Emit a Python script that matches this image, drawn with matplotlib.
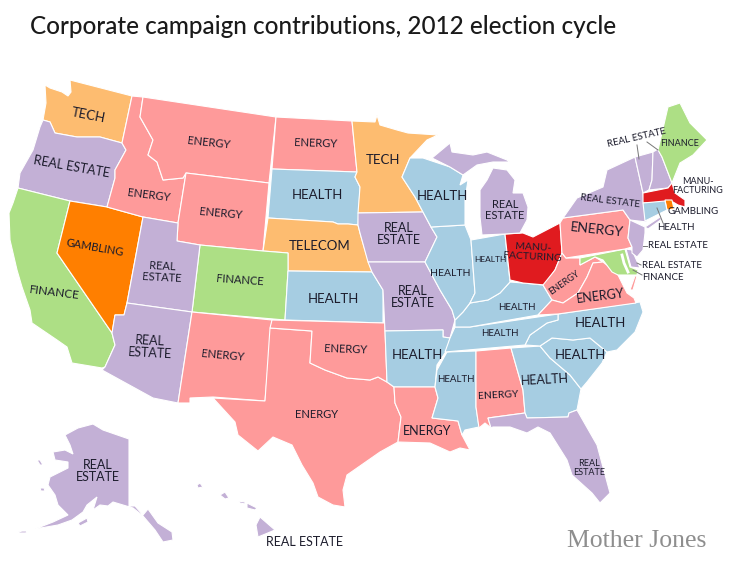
import matplotlib.pyplot as plt
from matplotlib.patches import Polygon

plt.rcParams['font.family'] = ['Lato', 'DejaVu Sans']

# sector colours
colors = {
    'energy': '#FE9A9A', 'tech': '#FDBC70', 'telecom': '#FDBC70', 'realestate': '#C3B0D6',
    'finance': '#ADDF85', 'health': '#A6CDE2', 'gambling': '#FF7F00', 'manu': '#E01B1F',
}

# top industry for each state
sector = {
    'WA': 'tech', 'OR': 'realestate', 'CA': 'finance', 'NV': 'gambling', 'ID': 'energy', 'MT': 'energy',
    'WY': 'energy', 'ND': 'energy', 'SD': 'health', 'NE': 'telecom', 'CO': 'finance', 'KS': 'health',
    'UT': 'realestate', 'AZ': 'realestate', 'NM': 'energy', 'TX': 'energy', 'OK': 'energy', 'MN': 'tech',
    'IA': 'realestate', 'MO': 'realestate', 'AR': 'health', 'LA': 'energy', 'MS': 'health', 'AL': 'energy',
    'GA': 'health', 'SC': 'health', 'NC': 'health', 'TN': 'health', 'KY': 'health', 'IL': 'health',
    'WI': 'health', 'IN': 'health', 'OH': 'manu', 'MI': 'realestate', 'MI2': 'realestate', 'WV': 'energy',
    'VA': 'energy', 'VA2': 'energy', 'MD': 'finance', 'DE': 'realestate', 'PA': 'energy', 'NY': 'realestate',
    'LI': 'realestate', 'NJ': 'realestate', 'VT': 'realestate', 'NH': 'realestate', 'ME': 'finance', 'MA': 'manu',
    'RI': 'gambling', 'CT': 'health', 'FL': 'realestate', 'AK': 'realestate', 'AK2': 'realestate',
    'AK3': 'realestate', 'AK4': 'realestate', 'AK5': 'realestate', 'HI': 'realestate', 'HI2': 'realestate',
    'HI3': 'realestate', 'HI4': 'realestate', 'HI5': 'realestate',
}

# state outlines (pixels)
outlines = {
    'WA': [(45,85),(50,88),(62,92),(68,96),(71,92),(70,80),(132,96),(122,143),(100,137),(77,137),(55,133),(50,122),(43,120),(46,103)],
    'OR': [(43,120),(50,122),(55,133),(77,137),(100,137),(122,143),(126,150),(115,170),(115,178),(107,207),(70,201),(18,188),(20,173),(33,150),(40,127)],
    'CA': [(18,188),(70,201),(57,253),(112,333),(115,345),(105,367),(102,368),(72,363),(67,347),(57,340),(32,323),(30,310),(22,287),(17,270),(10,240),(9,213),(13,203)],
    'NV': [(70,201),(107,207),(143,217),(127,303),(124,315),(115,315),(112,333),(57,253)],
    'ID': [(132,96),(143,97),(140,117),(153,140),(148,155),(157,162),(163,180),(183,178),(186,173),(178,223),(143,217),(107,207),(115,178),(115,170),(126,150),(122,143)],
    'MT': [(143,97),(276,117),(269,183),(186,173),(183,178),(163,180),(157,162),(148,155),(153,140),(140,117)],
    'WY': [(186,173),(269,183),(263,251),(200,245),(177,241),(178,223)],
    'ND': [(276,117),(352,121),(357,172),(272,169)],
    'SD': [(272,169),(357,172),(355,177),(360,187),(358,225),(348,224),(338,224),(333,222),(268,218)],
    'NE': [(268,218),(333,222),(338,224),(348,224),(358,225),(360,233),(367,257),(372,272),(288,271),(288,253),(263,251)],
    'CO': [(200,245),(263,251),(288,253),(288,271),(285,320),(192,312)],
    'KS': [(288,271),(372,272),(383,290),(383,323),(285,320)],
    'UT': [(143,217),(178,223),(177,241),(200,245),(192,312),(127,303)],
    'AZ': [(127,303),(192,312),(178,403),(153,398),(102,370),(105,367),(115,345),(112,333),(115,315),(124,315)],
    'NM': [(192,312),(272,320),(265,401),(213,397),(190,398),(190,403),(178,403)],
    'TX': [(270,328),(312,331),(310,363),(325,370),(347,378),(370,380),(378,377),(387,382),(394,387),(395,403),(401,417),(398,442),(380,452),(347,475),(343,490),(345,507),(333,505),(318,497),(313,483),(302,465),(292,445),(273,437),(258,451),(238,435),(235,422),(213,398),(265,401)],
    'OK': [(272,320),(385,323),(385,330),(387,382),(378,377),(370,380),(347,378),(325,370),(310,363),(312,331),(270,328)],
    'MN': [(352,121),(375,122),(377,115),(380,125),(397,130),(408,133),(438,135),(427,140),(410,158),(402,177),(415,197),(423,212),(358,213),(360,187),(355,177),(357,172)],
    'IA': [(358,213),(423,212),(431,227),(437,237),(425,262),(368,262),(360,233),(358,225)],
    'MO': [(368,262),(425,262),(440,290),(452,310),(455,320),(450,338),(443,337),(443,330),(385,331),(383,290),(372,272)],
    'AR': [(385,331),(443,330),(443,337),(450,338),(447,350),(437,365),(435,387),(394,387),(387,382)],
    'LA': [(394,387),(435,387),(438,398),(432,418),(458,421),(462,435),(470,450),(460,448),(450,452),(430,443),(398,442),(401,417),(395,403)],
    'MS': [(447,352),(476,351),(476,407),(479,427),(465,430),(462,435),(458,421),(432,418),(438,398),(435,387),(437,370)],
    'AL': [(476,351),(511,348),(523,390),(525,413),(488,418),(491,428),(485,423),(479,428),(476,407)],
    'GA': [(511,348),(540,346),(550,358),(570,375),(581,389),(577,410),(569,413),(568,417),(527,418),(525,413),(523,390)],
    'SC': [(540,346),(552,338),(573,340),(590,338),(607,352),(602,363),(587,382),(581,389),(570,375),(550,358)],
    'NC': [(558,314),(640,302),(643,312),(635,332),(617,350),(607,352),(590,338),(573,340),(552,338),(540,346),(525,345),(530,335),(547,323),(558,320)],
    'TN': [(470,327),(558,314),(558,320),(547,323),(530,335),(525,345),(445,352),(450,338),(455,327)],
    'KY': [(455,320),(463,312),(470,303),(488,300),(500,293),(510,282),(523,283),(543,285),(552,300),(538,315),(470,327),(455,327)],
    'IL': [(431,227),(465,225),(471,240),(475,293),(470,303),(463,312),(455,320),(452,310),(440,290),(425,262),(437,237)],
    'WI': [(410,158),(423,158),(450,167),(463,175),(460,185),(468,180),(465,200),(465,225),(431,227),(423,212),(415,197),(402,177)],
    'IN': [(471,240),(505,234),(510,282),(500,293),(488,300),(470,303),(475,293)],
    'OH': [(505,234),(523,233),(533,237),(560,223),(562,253),(555,270),(545,285),(523,283),(510,280)],
    'MI': [(482,235),(480,217),(480,190),(487,180),(493,168),(507,170),(515,180),(513,193),(523,193),(528,207),(527,220),(520,233),(505,234)],
    'MI2': [(432,158),(450,143),(452,152),(473,155),(487,152),(507,160),(510,162),(493,162),(477,165),(463,175),(450,167)],
    'WV': [(562,253),(566,258),(580,258),(580,265),(595,257),(603,262),(593,263),(587,277),(578,293),(563,303),(552,300),(543,285),(555,270)],
    'VA': [(538,315),(552,300),(563,303),(578,293),(587,277),(593,263),(603,262),(617,273),(627,293),(634,298),(636,303),(558,314)],
    'VA2': [(635,276),(637,276),(633,290),(630,290)],
    'MD': [(580,258),(625,249),(630,267),(638,270),(637,275),(618,275),(612,272),(603,260),(595,257),(580,265)],
    'DE': [(626,249),(632,250),(640,268),(631,267)],
    'PA': [(560,223),(563,218),(623,210),(630,220),(628,238),(632,247),(625,249),(566,258),(562,253)],
    'NY': [(563,218),(577,198),(603,187),(607,170),(635,157),(643,193),(645,213),(647,222),(630,220),(623,210)],
    'LI': [(645,227),(660,217),(662,219),(648,229)],
    'NJ': [(630,220),(645,227),(645,233),(643,250),(637,257),(632,253),(632,247),(628,238)],
    'VT': [(635,157),(653,152),(652,180),(649,190),(643,193)],
    'NH': [(653,152),(658,149),(662,157),(672,183),(668,188),(649,190),(652,180)],
    'ME': [(658,150),(668,107),(680,103),(690,123),(707,140),(693,155),(680,163),(672,183),(662,157)],
    'MA': [(643,193),(668,188),(672,183),(675,193),(685,200),(685,207),(678,205),(673,202),(643,203)],
    'RI': [(665,200),(672,200),(674,209),(667,210)],
    'CT': [(643,203),(665,201),(667,210),(645,221)],
    'FL': [(488,418),(525,413),(527,418),(568,417),(569,413),(577,410),(597,445),(610,493),(600,503),(592,493),(572,475),(567,460),(550,433),(538,427),(527,433),(510,427),(493,427),(491,428)],
    'AK': [(65,435),(78,428),(93,424),(103,430),(129,439),(129,506),(135,506),(143,515),(148,509),(158,523),(172,532),(173,540),(163,542),(155,530),(143,516),(133,508),(113,502),(108,506),(100,505),(93,510),(97,497),(87,505),(83,512),(72,520),(58,525),(35,529),(53,522),(68,515),(58,505),(55,495),(48,485),(50,477),(68,468),(68,462),(55,460),(53,452),(65,450),(73,454),(70,445)],
    'AK2': [(78,523),(87,518),(88,522),(80,526)],
    'AK3': [(15,533),(22,531),(27,531),(26,533),(18,533)],
    'AK4': [(37,460),(40,460),(43,465),(40,465)],
    'AK5': [(40,488),(44,488),(45,491),(41,491)],
    'HI': [(256,525),(260,517),(275,530),(263,535),(258,537)],
    'HI2': [(247,503),(257,508),(255,510),(247,508)],
    'HI3': [(220,495),(225,492),(229,498),(225,499)],
    'HI4': [(197,485),(200,483),(203,487),(198,488)],
    'HI5': [(238,501),(245,502),(245,504),(240,503)],
}

# text, x, y, size, rotation
labels = [
    ('TECH', 88, 115, 9.5, -11), ('REAL ESTATE', 72, 167, 9, -10), ('ENERGY', 209, 143, 8, -6),
    ('ENERGY', 316, 143, 8, -2), ('HEALTH', 317, 195, 9.5, 0), ('TECH', 383, 160, 9.5, 0),
    ('HEALTH', 442, 196, 9.5, 0), ('ENERGY', 149, 195, 8, -7), ('ENERGY', 221, 213, 8, -5),
    ('TELECOM', 320, 246, 9.5, 0), ('REAL\nESTATE', 399, 234, 9, 0), ('REAL\nESTATE', 505, 210, 8, 0),
    ('MANU-\nFACTURING', 533, 252, 7.5, -3), ('REAL ESTATE', 610, 201, 7, -7), ('ENERGY', 597, 230, 10, -6),
    ('GAMBLING', 95, 248, 8, -10), ('REAL\nESTATE', 162, 272, 8, -3), ('FINANCE', 240, 280, 8, -4),
    ('FINANCE', 54, 293, 8.5, -7), ('HEALTH', 333, 299, 9.5, 0), ('REAL\nESTATE', 150, 347, 9, -3),
    ('ENERGY', 223, 355, 8, -5), ('ENERGY', 346, 349, 8, -2), ('HEALTH', 417, 355, 9.5, 0),
    ('REAL\nESTATE', 413, 297, 9, 0), ('HEALTH', 450, 273, 7.5, 0), ('HEALTH', 490, 260, 6, 0),
    ('HEALTH', 517, 307, 7, 0), ('ENERGY', 564, 283, 6.5, 35), ('ENERGY', 600, 296, 9, 7),
    ('HEALTH', 600, 323, 9.5, 0), ('HEALTH', 500, 334, 7, 0), ('HEALTH', 580, 355, 9.5, 0),
    ('HEALTH', 545, 380, 9, 3), ('ENERGY', 498, 395, 7.5, 3), ('HEALTH', 456, 380, 7, 0),
    ('ENERGY', 317, 415, 8, 0), ('ENERGY', 427, 431, 9, 0), ('REAL\nESTATE', 589, 468, 6.5, 0),
    ('REAL\nESTATE', 98, 471, 9, 0), ('REAL ESTATE', 305, 542, 9, 0), ('FINANCE', 680, 143, 6.5, 0),
    ('REAL ESTATE', 637, 138, 7, 13), ('MANU-\nFACTURING', 698, 186, 6.5, 0), ('GAMBLING', 693, 212, 7, 0),
    ('HEALTH', 676, 228, 7, 0), ('REAL ESTATE', 678, 246, 7, 0), ('REAL ESTATE', 672, 265, 7, 0),
    ('FINANCE', 663, 277, 7, 0),
]

# little lines from the outside labels to the small states
leaders = [
    ((637, 145), (639, 159)), ((647, 142), (658, 150)), ((657, 208), (663, 223)),
    ((643, 246), (647, 246)), ((637, 263), (641, 265)), ((633, 270), (642, 275)),
]

# chesapeake bay
bay_x = [622, 624, 628]
bay_y = [255, 263, 272]

fig = plt.figure(figsize=(7.35, 5.71), dpi=100)
ax = fig.add_axes([0, 0, 1, 1])
ax.set_xlim(0, 735)
ax.set_ylim(571, 0)
ax.axis('off')

for state, pts in outlines.items():
    ax.add_patch(Polygon(pts, closed=True, facecolor=colors[sector[state]], edgecolor='white', linewidth=0.8))

ax.plot(bay_x, bay_y, color='white', linewidth=2)

for a, b in leaders:
    ax.plot([a[0], b[0]], [a[1], b[1]], color='#777777', linewidth=0.7)

for txt, x, y, size, rot in labels:
    ax.text(x, y, txt, fontsize=size, rotation=rot, ha='center', va='center', color='#1c1c2c',
            linespacing=1.05, multialignment='center', rotation_mode='anchor')

ax.text(30, 26, 'Corporate campaign contributions, 2012 election cycle', fontsize=17.5,
        color='#1a1a1a', ha='left', va='center', fontweight='medium')
ax.text(637, 541, 'Mother Jones', fontsize=18.5, family='Liberation Serif', color='#8e8e8e',
        ha='center', va='center')

fig.savefig('out.png', dpi=100)
